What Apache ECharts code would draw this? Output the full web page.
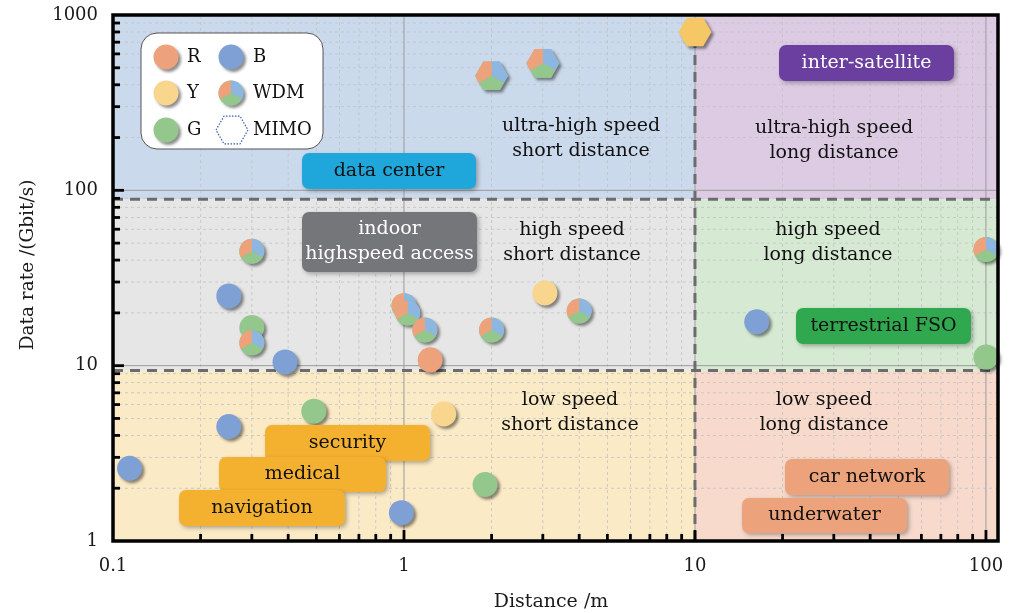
<!DOCTYPE html>
<html>
<head>
<meta charset="utf-8">
<script src="https://cdn.jsdelivr.net/npm/echarts@6/dist/echarts.min.js"></script>
<style>html,body{margin:0;padding:0;background:#fff}#c{width:1015px;height:613px}</style>
</head>
<body>
<div id="c"></div>
<script>
// ---------- data ----------
const xTickLabels = ['0.1', '1', '10', '100'];
const yTickLabels = ['1', '10', '100', '1000'];
const xMinorTicks = [0.2, 0.3, 0.4, 0.5, 0.6, 0.7, 0.8, 0.9, 2, 3, 4, 5, 6, 7, 8, 9, 20, 30, 40, 50, 60, 70, 80, 90];
const xMajorTicks = [1, 10, 100];
const yMinorTicks = [2, 3, 4, 5, 6, 7, 8, 9, 20, 30, 40, 50, 60, 70, 80, 90, 200, 300, 400, 500, 600, 700, 800, 900];
const yMajorTicks = [10, 100];
const xRange = [0.1, 110];
const yRange = [1, 1000];
const distanceBreak = 10;
const rateBreaks = [9.4, 89];

// points [distance (m), data rate (Gbit/s)]
const rPoints = [[1.23, 10.8]];
const bPoints = [[0.25, 25], [0.39, 10.5], [16.3, 17.8], [0.25, 4.5], [0.114, 2.6], [0.98, 1.45]];
const yPoints = [[3.05, 26], [1.37, 5.3]];
const gPoints = [[0.3, 16.5], [100, 11.2], [0.49, 5.5], [1.9, 2.1]];
const wdmPoints = [[0.3, 45], [0.3, 13.5], [1, 22], [1.03, 20], [1.18, 16], [2, 16], [4, 20.5], [100, 46]];
const mimoWdmPoints = [[2, 450], [3, 530]];
const mimoYPoints = [[10, 800]];

// ---------- styles ----------
const FONT = '"DejaVu Serif", "Liberation Serif", serif';
const C = { R: '#eda27c', B: '#7fa0d5', Y: '#f8d68d', G: '#94c78b', Yhex: '#f5c865',
            wR: '#eda27c', wB: '#8db6e0', wG: '#94c78b' };
const regionColors = ['#fbeac6', '#e6e6e6', '#cbd9ec', '#f8dacd', '#d6ead3', '#ddcbe3'];
const regionData = [];
[[xRange[0], distanceBreak], [distanceBreak, xRange[1]]].forEach(xs => {
  [[yRange[0], rateBreaks[0]], [rateBreaks[0], rateBreaks[1]], [rateBreaks[1], yRange[1]]].forEach(ys => {
    regionData.push([xs[0], ys[0], xs[1], ys[1]]);
  });
});

const CR = 12.5, HR = 16.5;
const shadow = { shadowColor: 'rgba(0,0,0,0.45)', shadowBlur: 3, shadowOffsetX: 2.5, shadowOffsetY: 2.5 };

function circleEl(cx, cy, color) {
  return { type: 'circle', shape: { cx, cy, r: CR }, style: Object.assign({ fill: color }, shadow) };
}
function pieEls(cx, cy, r) {
  const base = { type: 'circle', shape: { cx, cy, r }, style: Object.assign({ fill: C.wG }, shadow) };
  const s = (a0, a1, col) => ({ type: 'sector', shape: { cx, cy, r0: 0, r, startAngle: a0, endAngle: a1, clockwise: true }, style: { fill: col } });
  const P = Math.PI;
  return [base, s(-P / 2, P / 6, C.wB), s(P / 6, 5 * P / 6, C.wG), s(5 * P / 6, 3 * P / 2, C.wR)];
}
function hexPts(cx, cy, r) {
  const pts = [];
  for (let k = 0; k < 6; k++) { const a = k * Math.PI / 3; pts.push([cx + r * Math.cos(a), cy + r * Math.sin(a)]); }
  return pts;
}
function hexWdmEls(cx, cy, r) {
  const V = hexPts(cx, cy, r);
  const m = r * Math.sqrt(3) / 2;
  const M = a => [cx + m * Math.cos(a), cy + m * Math.sin(a)];
  const P = Math.PI;
  const base = { type: 'polygon', shape: { points: V }, style: Object.assign({ fill: C.wG }, shadow) };
  const blue = { type: 'polygon', shape: { points: [[cx, cy], M(-P / 2), V[5], V[0], M(P / 6)] }, style: { fill: C.wB } };
  const green = { type: 'polygon', shape: { points: [[cx, cy], M(P / 6), V[1], V[2], M(5 * P / 6)] }, style: { fill: C.wG } };
  const orange = { type: 'polygon', shape: { points: [[cx, cy], M(5 * P / 6), V[3], V[4], M(-P / 2)] }, style: { fill: C.wR } };
  return [base, blue, green, orange];
}

function pointSeries(name, data, kind, color) {
  return {
    type: 'custom', name, data, clip: false, silent: true,
    renderItem: function (params, api) {
      const p = api.coord([api.value(0), api.value(1)]);
      let children;
      if (kind === 'circle') children = [circleEl(p[0], p[1], color)];
      else if (kind === 'pie') children = pieEls(p[0], p[1], CR);
      else if (kind === 'hexWdm') children = hexWdmEls(p[0], p[1], HR);
      else children = [{ type: 'polygon', shape: { points: hexPts(p[0], p[1], HR) }, style: Object.assign({ fill: color }, shadow) }];
      return { type: 'group', children };
    }
  };
}

function vline(api, v, style) {
  const a = api.coord([v, yRange[0]]), b = api.coord([v, yRange[1]]);
  return { type: 'line', shape: { x1: a[0], y1: a[1], x2: b[0], y2: b[1] }, style };
}
function hline(api, v, style) {
  const a = api.coord([xRange[0], v]), b = api.coord([xRange[1], v]);
  return { type: 'line', shape: { x1: a[0], y1: a[1], x2: b[0], y2: b[1] }, style };
}

const minorGrid = { stroke: '#c3c3c3', lineWidth: 0.8, lineDash: [3, 3] };
const majorGrid = { stroke: '#9c9c9c', lineWidth: 1 };
const breakStyle = { stroke: '#6c6c6c', lineWidth: 3, lineDash: [10, 7] };

const series = [
  { type: 'custom', name: 'regions', data: regionData, encode: { x: [0, 2], y: [1, 3] }, silent: true,
    renderItem: function (params, api) {
      const a = api.coord([api.value(0), api.value(1)]);
      const b = api.coord([api.value(2), api.value(3)]);
      return { type: 'rect', shape: { x: Math.min(a[0], b[0]), y: Math.min(a[1], b[1]), width: Math.abs(b[0] - a[0]), height: Math.abs(b[1] - a[1]) },
               style: { fill: regionColors[params.dataIndex] } };
    } },
  { type: 'custom', name: 'grid', data: [[1, 1]], silent: true,
    renderItem: function (params, api) {
      const ch = [];
      xMinorTicks.forEach(v => ch.push(vline(api, v, minorGrid)));
      yMinorTicks.forEach(v => ch.push(hline(api, v, minorGrid)));
      xMajorTicks.forEach(v => ch.push(vline(api, v, majorGrid)));
      yMajorTicks.forEach(v => ch.push(hline(api, v, majorGrid)));
      return { type: 'group', children: ch };
    } },
  { type: 'custom', name: 'breaks', data: [[1, 1]], silent: true,
    renderItem: function (params, api) {
      const ch = [vline(api, distanceBreak, breakStyle)];
      rateBreaks.forEach(v => ch.push(hline(api, v, breakStyle)));
      return { type: 'group', children: ch };
    } },
  { type: 'custom', name: 'ticks', data: [[1, 1]], silent: true,
    renderItem: function (params, api) {
      const ch = [];
      const st = { stroke: '#000', lineWidth: 2.8 };
      const xt = (v, len) => { const a = api.coord([v, yRange[0]]); ch.push({ type: 'line', shape: { x1: a[0], y1: a[1], x2: a[0], y2: a[1] - len }, style: st }); };
      const yt = (v, len) => { const a = api.coord([xRange[0], v]); ch.push({ type: 'line', shape: { x1: a[0], y1: a[1], x2: a[0] + len, y2: a[1] }, style: st }); };
      xMinorTicks.forEach(v => xt(v, 7));
      xMajorTicks.forEach(v => xt(v, 11));
      yMinorTicks.forEach(v => yt(v, 7));
      yMajorTicks.forEach(v => yt(v, 11));
      return { type: 'group', children: ch };
    } },
  pointSeries('R', rPoints, 'circle', C.R),
  pointSeries('B', bPoints, 'circle', C.B),
  pointSeries('Y', yPoints, 'circle', C.Y),
  pointSeries('G', gPoints, 'circle', C.G),
  pointSeries('WDM', wdmPoints, 'pie'),
  pointSeries('MIMO WDM', mimoWdmPoints, 'hexWdm'),
  pointSeries('MIMO Y', mimoYPoints, 'hex', C.Yhex)
];

// ---------- annotations ----------
function txt(text, x, y, color, size, align) {
  return { type: 'text', z: 120, style: { text, x, y, fill: color || '#111', font: (size || 19) + 'px ' + FONT,
    align: align || 'center', verticalAlign: 'middle', textAlign: align || 'center', textVerticalAlign: 'middle', lineHeight: 25 } };
}
function box(label, x, y, w, h, fill, color) {
  return { type: 'group', z: 110, children: [
    { type: 'rect', z: 110, shape: { x, y, width: w, height: h, r: 7 },
      style: { fill, shadowColor: 'rgba(0,0,0,0.3)', shadowBlur: 4, shadowOffsetX: 2, shadowOffsetY: 2 } },
    txt(label, x + w / 2, y + h / 2, color)
  ] };
}
const graphics = [
  txt('ultra-high speed\nshort distance', 581, 139),
  txt('ultra-high speed\nlong distance', 834, 141),
  txt('high speed\nshort distance', 572, 243),
  txt('high speed\nlong distance', 828, 243),
  txt('low speed\nshort distance', 570, 413),
  txt('low speed\nlong distance', 824, 413),
  box('data center', 302, 153, 174, 36, '#1fa7dc', '#111'),
  box('indoor\nhighspeed access', 302, 212, 175, 60, '#75767a', '#ffffff'),
  box('inter-satellite', 779, 45, 175, 36, '#6a3f9f', '#ffffff'),
  box('terrestrial FSO', 796, 308, 175, 36, '#2fa84f', '#111'),
  box('car network', 785, 459, 164, 36, '#eca27b', '#111'),
  box('underwater', 742, 498, 165, 35, '#eca27b', '#111'),
  box('security', 265, 425, 165, 36, '#f4b12f', '#111'),
  box('medical', 219, 457, 167, 35, '#f4b12f', '#111'),
  box('navigation', 179, 490, 166, 36, '#f4b12f', '#111'),
  // legend
  { type: 'rect', z: 110, shape: { x: 141, y: 33, width: 182, height: 116, r: 16 }, style: { fill: '#ffffff', stroke: '#555', lineWidth: 1 } },
  Object.assign(circleEl(166, 57, C.R), { z: 111 }),
  Object.assign(circleEl(231, 57, C.B), { z: 111 }),
  Object.assign(circleEl(166, 93, C.Y), { z: 111 }),
  { type: 'group', z: 111, children: pieEls(231, 93, CR).map(e => Object.assign(e, { z: 111 })) },
  Object.assign(circleEl(166, 130, C.G), { z: 111 }),
  { type: 'polygon', z: 111, shape: { points: hexPts(232, 130, 16) }, style: { fill: '#fff', stroke: '#3a5da8', lineWidth: 1.2, lineDash: [1.5, 1.5] } },
  txt('R', 187, 57, '#111', 18, 'left'),
  txt('B', 253, 57, '#111', 18, 'left'),
  txt('Y', 187, 93, '#111', 18, 'left'),
  txt('WDM', 253, 93, '#111', 18, 'left'),
  txt('G', 187, 130, '#111', 18, 'left'),
  txt('MIMO', 253, 130, '#111', 18, 'left'),
  // frame
  { type: 'rect', z: 130, shape: { x: 113, y: 15, width: 885, height: 526 }, style: { fill: null, stroke: '#000', lineWidth: 3.5 } },
  // axis names
  txt('Distance /m', 551, 602, '#1a1a1a', 19),
  { type: 'text', z: 120, x: 28, y: 265, rotation: Math.PI / 2,
    style: { text: 'Data rate /(Gbit/s)', x: 0, y: 0, fill: '#1a1a1a', font: '18.5px ' + FONT, align: 'center', verticalAlign: 'middle', textAlign: 'center', textVerticalAlign: 'middle' } }
];

function fmt(labels) {
  return function (v) {
    for (const s of labels) { if (Math.abs(Number(s) - v) < 1e-9 * Math.max(1, v)) return s; }
    return '';
  };
}

const chart = echarts.init(document.getElementById('c'), null, { renderer: 'canvas' });
chart.setOption({
  animation: false,
  grid: { left: 113, right: 17, top: 15, bottom: 72, containLabel: false },
  xAxis: { type: 'log', logBase: 10, min: xRange[0], max: xRange[1],
    axisLine: { show: false }, axisTick: { show: false }, splitLine: { show: false },
    axisLabel: { formatter: fmt(xTickLabels), color: '#1a1a1a', fontSize: 18, fontFamily: FONT, margin: 16, showMaxLabel: false } },
  yAxis: { type: 'log', logBase: 10, min: yRange[0], max: yRange[1],
    axisLine: { show: false }, axisTick: { show: false }, splitLine: { show: false },
    axisLabel: { formatter: fmt(yTickLabels), color: '#1a1a1a', fontSize: 18, fontFamily: FONT, margin: 15 } },
  series,
  graphic: { elements: graphics }
});
</script>
</body>
</html>
